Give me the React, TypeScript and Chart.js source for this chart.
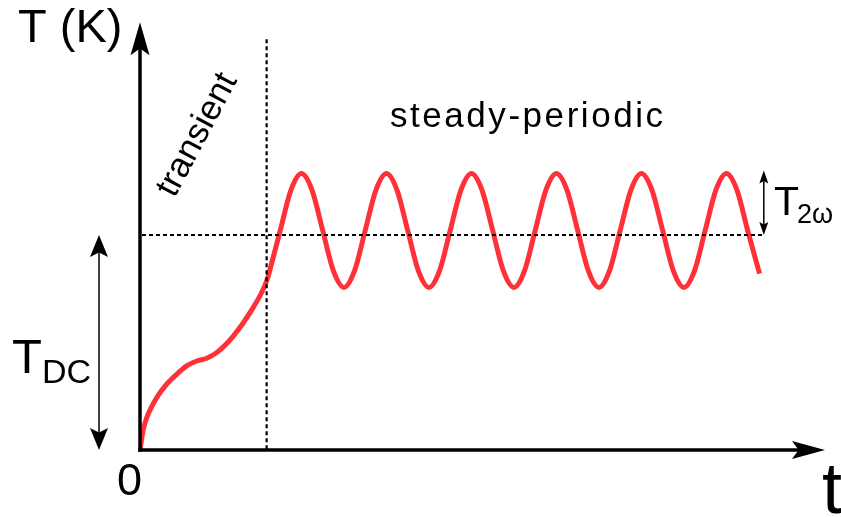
import React, { useEffect, useRef } from "react";
import { Chart, registerables } from "chart.js";

Chart.register(...registerables);

// Transient part of the temperature curve (t in periods, T in units of T_DC)
const transientTime = [0, 0.035, 0.079, 0.196, 0.314, 0.432, 0.549, 0.667, 0.785, 0.902, 1.098, 1.294, 1.49, 1.57];
const transientTemp = [0, 0.088, 0.15, 0.243, 0.306, 0.352, 0.391, 0.414, 0.427, 0.453, 0.53, 0.639, 0.786, 0.9];

// Steady-periodic part
const periodicTime = [
  1.65, 1.775, 1.9, 2.025, 2.15, 2.275, 2.4, 2.525,
  2.65, 2.775, 2.9, 3.025, 3.15, 3.275, 3.4, 3.525,
  3.65, 3.775, 3.9, 4.025, 4.15, 4.275, 4.4, 4.525,
  4.65, 4.775, 4.9, 5.025, 5.15, 5.275, 5.4, 5.525,
  5.65, 5.775, 5.9, 6.025, 6.15, 6.275, 6.4, 6.525,
  6.65, 6.775, 6.9, 7.025, 7.15, 7.29,
];
const periodicTemp = [
  1.021, 1.208, 1.286, 1.208, 1.021, 0.834, 0.756, 0.834,
  1.021, 1.208, 1.286, 1.208, 1.021, 0.834, 0.756, 0.834,
  1.021, 1.208, 1.286, 1.208, 1.021, 0.834, 0.756, 0.834,
  1.021, 1.208, 1.286, 1.208, 1.021, 0.834, 0.756, 0.834,
  1.021, 1.208, 1.286, 1.208, 1.021, 0.834, 0.756, 0.834,
  1.021, 1.208, 1.286, 1.208, 1.021, 0.82,
];

const T_DC = 1.0;
const T_2W_TOP = 1.3;
const TRANSIENT_END = 1.49;
const VLINE_TOP = 1.91;
const DASH_END = 7.32;
const T2W_ARROW_T = 7.34;
const Y_ARROW_TIP = 1.99;
const X_MAX = 8.06;
const Y_MAX = 2.0;

const FONT = '"Liberation Sans", Arial, Helvetica, sans-serif';

function arrowHead(ctx: CanvasRenderingContext2D, tipX: number, tipY: number, dx: number, dy: number, len: number, hw: number) {
  const bx = tipX - dx * len;
  const by = tipY - dy * len;
  const px = -dy;
  const py = dx;
  const nx = tipX - dx * len * 0.8;
  const ny = tipY - dy * len * 0.8;
  ctx.beginPath();
  ctx.moveTo(tipX, tipY);
  ctx.lineTo(bx + px * hw, by + py * hw);
  ctx.lineTo(nx, ny);
  ctx.lineTo(bx - px * hw, by - py * hw);
  ctx.closePath();
  ctx.fill();
}

function doubleArrow(ctx: CanvasRenderingContext2D, x: number, y1: number, y2: number, len: number, hw: number, lw: number) {
  ctx.save();
  ctx.setLineDash([]);
  ctx.lineWidth = lw;
  ctx.strokeStyle = "#000";
  ctx.fillStyle = "#000";
  ctx.beginPath();
  ctx.moveTo(x, y1 + len * 0.7);
  ctx.lineTo(x, y2 - len * 0.7);
  ctx.stroke();
  arrowHead(ctx, x, y1, 0, -1, len, hw);
  arrowHead(ctx, x, y2, 0, 1, len, hw);
  ctx.restore();
}

const overlayPlugin = {
  id: "overlay",
  afterDatasetsDraw(chart: any) {
    const { ctx, scales } = chart;
    const xs = scales.x;
    const ys = scales.y;
    const x0 = xs.getPixelForValue(0);
    const y0 = ys.getPixelForValue(0);
    const yDC = ys.getPixelForValue(T_DC);

    ctx.save();
    // dashed lines
    ctx.strokeStyle = "#000";
    ctx.lineWidth = 2.2;
    ctx.setLineDash([4, 3]);
    ctx.beginPath();
    ctx.moveTo(x0 + 2, yDC);
    ctx.lineTo(xs.getPixelForValue(DASH_END), yDC);
    ctx.stroke();
    const xv = xs.getPixelForValue(TRANSIENT_END);
    ctx.beginPath();
    ctx.moveTo(xv, ys.getPixelForValue(VLINE_TOP));
    ctx.lineTo(xv, y0);
    ctx.stroke();
    ctx.setLineDash([]);

    // axes
    ctx.lineWidth = 3.5;
    ctx.fillStyle = "#000";
    const yTip = ys.getPixelForValue(Y_ARROW_TIP);
    ctx.beginPath();
    ctx.moveTo(x0, y0 + 1.75);
    ctx.lineTo(x0, yTip + 20);
    ctx.stroke();
    arrowHead(ctx, x0, yTip, 0, -1, 33, 9.5);
    const xTip = xs.getPixelForValue(X_MAX);
    ctx.beginPath();
    ctx.moveTo(x0 - 1.75, y0);
    ctx.lineTo(xTip - 20, y0);
    ctx.stroke();
    arrowHead(ctx, xTip, y0, 1, 0, 33, 9);

    // T_DC arrow
    doubleArrow(ctx, 99, yDC, y0, 22, 9, 1.5);
    // T_2w arrow
    doubleArrow(ctx, xs.getPixelForValue(T2W_ARROW_T), ys.getPixelForValue(T_2W_TOP), yDC, 13, 4.5, 1.5);

    // texts
    ctx.fillStyle = "#000";
    ctx.textBaseline = "alphabetic";
    ctx.textAlign = "left";
    ctx.font = `47px ${FONT}`;
    ctx.fillText("T (K)", 18, 42);

    ctx.textAlign = "center";
    ctx.font = `45px ${FONT}`;
    ctx.fillText("0", 129.5, 495);

    ctx.textAlign = "left";
    ctx.font = `72px ${FONT}`;
    ctx.fillText("t", 822, 513);

    ctx.font = `49px ${FONT}`;
    ctx.fillText("T", 12, 373);
    ctx.font = `34px ${FONT}`;
    ctx.fillText("DC", 42, 383);

    ctx.font = `41px ${FONT}`;
    ctx.fillText("T", 774, 215);
    ctx.font = `27px ${FONT}`;
    ctx.fillText("2\u03c9", 797, 223);

    // steady-periodic, fitted to width
    ctx.font = `35px ${FONT}`;
    const sp = "steady-periodic";
    const w = ctx.measureText(sp).width;
    const ls = (273 - w) / (sp.length - 1);
    (ctx as any).letterSpacing = `${ls}px`;
    ctx.fillText(sp, 390, 127);
    (ctx as any).letterSpacing = "0px";

    // transient (rotated)
    ctx.save();
    ctx.translate(197.5, 135);
    ctx.rotate((-62 * Math.PI) / 180);
    ctx.textAlign = "center";
    ctx.textBaseline = "middle";
    ctx.font = `35px ${FONT}`;
    ctx.fillText("transient", 0, 0);
    ctx.restore();

    ctx.restore();
  },
};

export default function App() {
  const ref = useRef<HTMLCanvasElement | null>(null);

  useEffect(() => {
    document.body.style.margin = "0";
    document.body.style.background = "#fff";
    const canvas = ref.current;
    if (!canvas) return;
    const points = transientTime
      .map((t, i) => ({ x: t, y: transientTemp[i] }))
      .concat(periodicTime.map((t, i) => ({ x: t, y: periodicTemp[i] })));

    const chart = new Chart(canvas, {
      type: "line",
      data: {
        datasets: [
          {
            data: points,
            borderColor: "#ff3038",
            borderWidth: 5,
            pointRadius: 0,
            fill: false,
            cubicInterpolationMode: "monotone",
            borderJoinStyle: "round",
          },
        ],
      },
      options: {
        animation: false,
        responsive: false,
        devicePixelRatio: 1,
        layout: { padding: { left: 140, right: 16, top: 20, bottom: 67 } },
        scales: {
          x: { type: "linear", min: 0, max: X_MAX, display: false },
          y: { type: "linear", min: 0, max: Y_MAX, display: false },
        },
        plugins: {
          legend: { display: false },
          tooltip: { enabled: false },
        },
      },
      plugins: [overlayPlugin],
    });
    return () => chart.destroy();
  }, []);

  return (
    <div style={{ width: 841, height: 517, background: "#fff" }}>
      <canvas ref={ref} width={841} height={517} style={{ display: "block" }} />
    </div>
  );
}
